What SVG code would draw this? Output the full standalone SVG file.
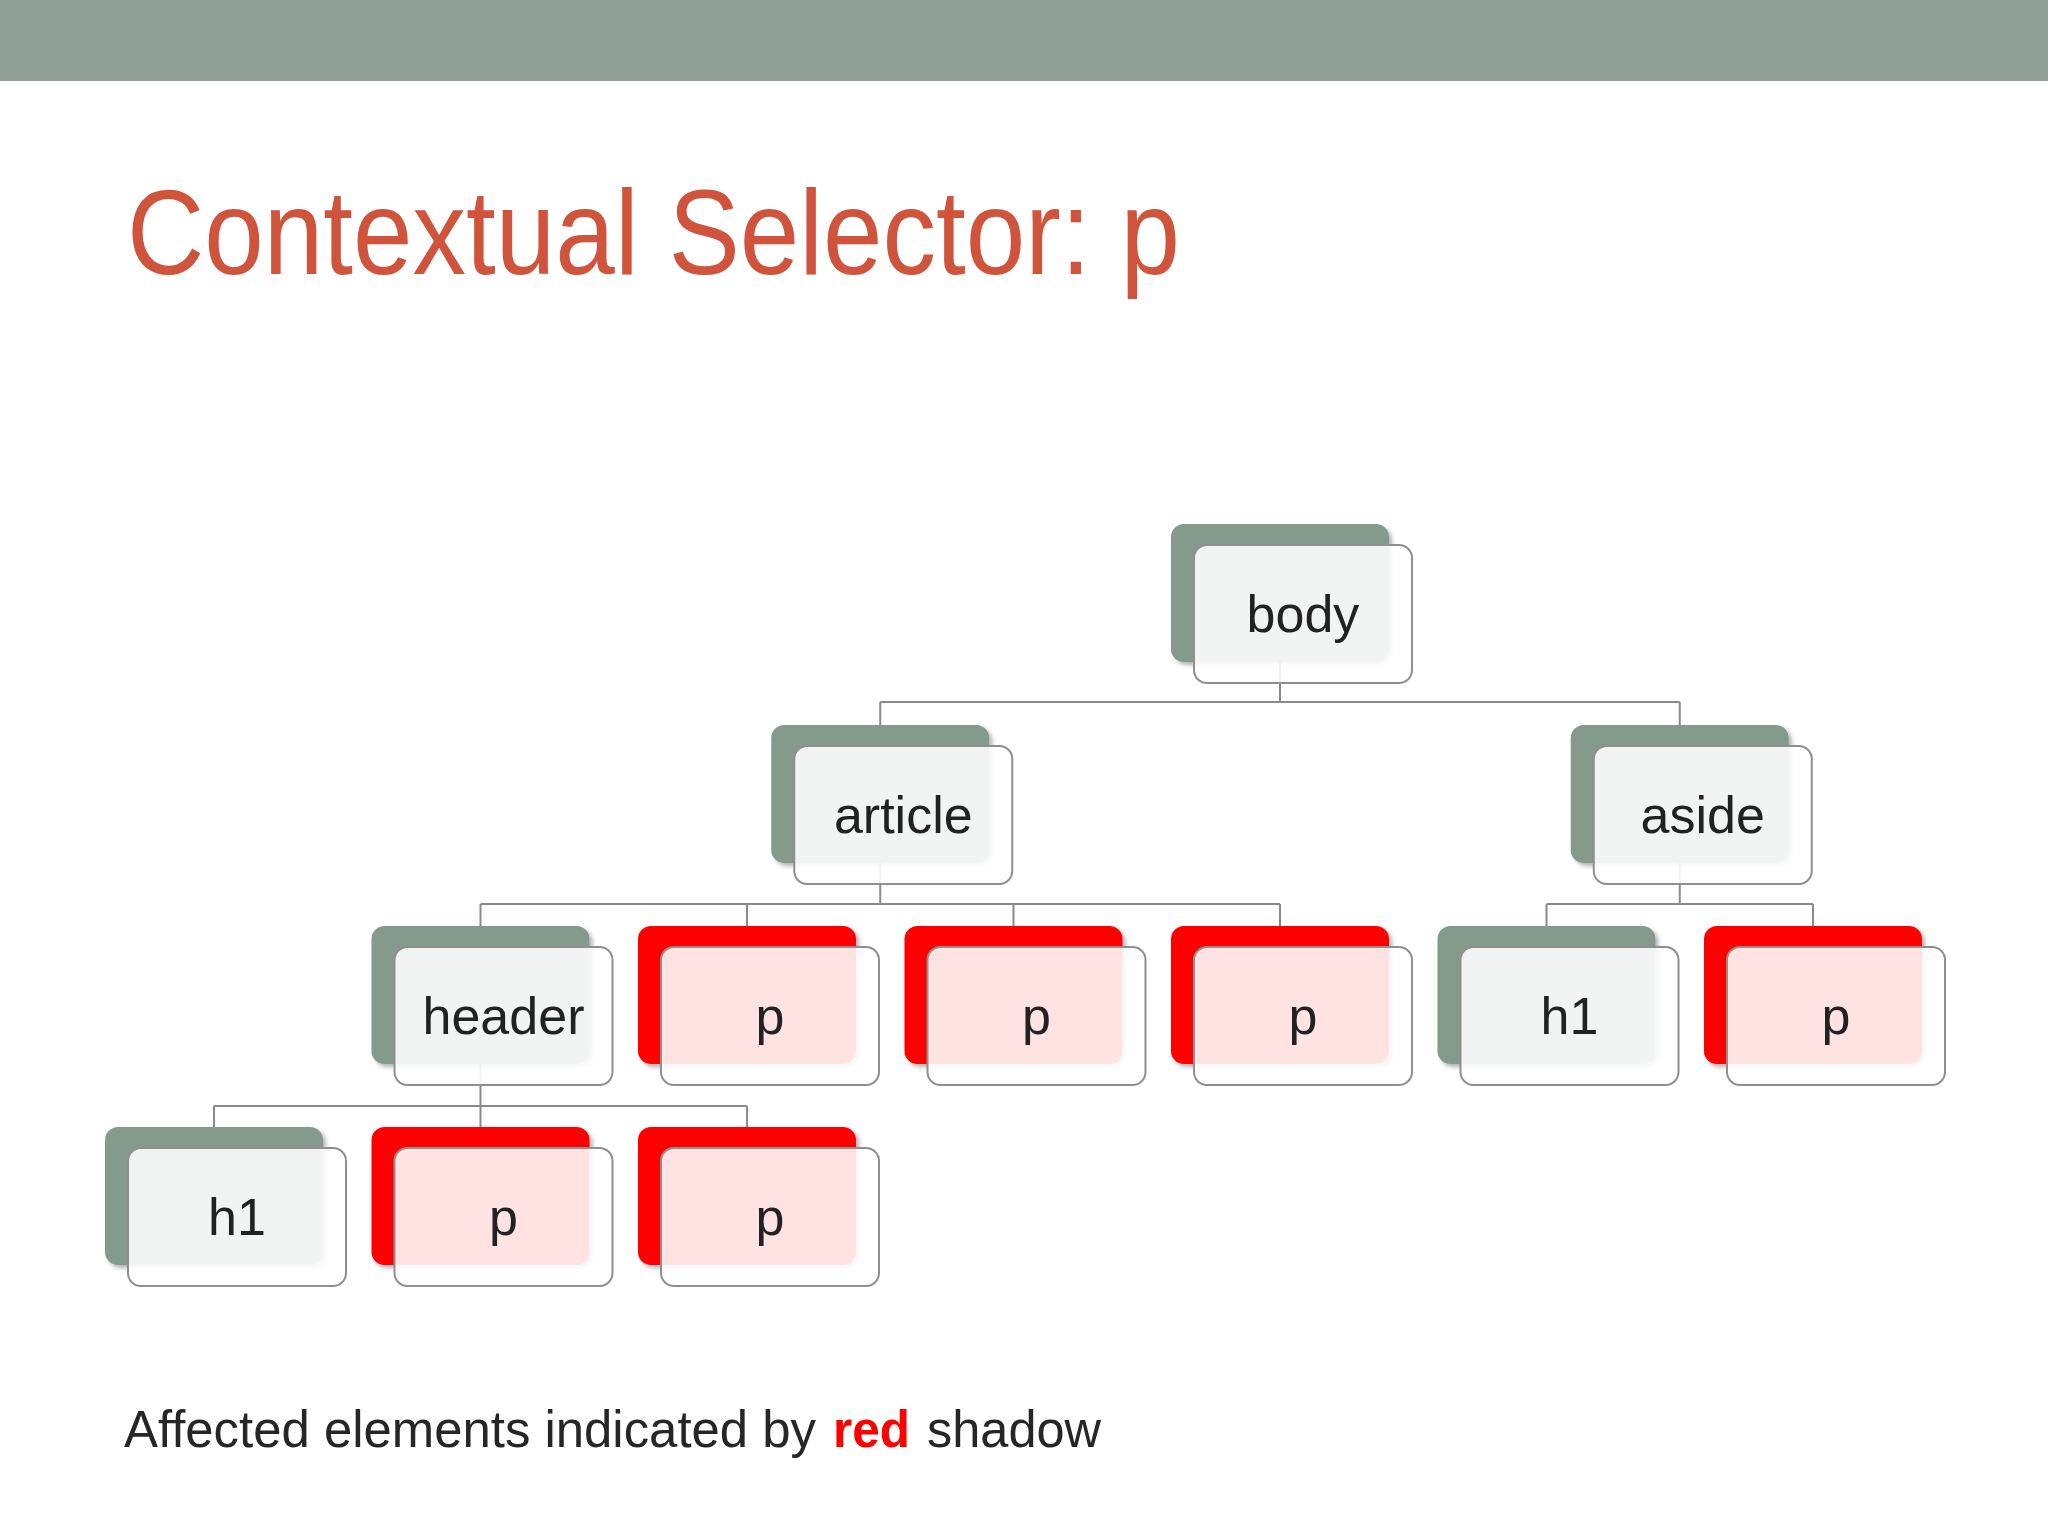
<svg xmlns="http://www.w3.org/2000/svg" width="2048" height="1536" viewBox="0 0 2048 1536">
<defs>
<style>
.sg{fill:#849a8d;filter:url(#ds)}
.sr{fill:#ff0000;filter:url(#ds)}
.fr{fill:#ffffff;fill-opacity:.89;stroke:#8f8f8f;stroke-width:2}
.lbl{font-family:"Liberation Sans",Arial,sans-serif;font-size:52px;fill:#222222;text-anchor:middle}
.cn{fill:none;stroke:#8a8a8a;stroke-width:2}
.foot{font-family:"Liberation Sans",Arial,sans-serif;font-size:52px;fill:#262626}
</style>
<filter id="ds" x="-10%" y="-10%" width="125%" height="125%">
<feDropShadow dx="3" dy="3" stdDeviation="2" flood-color="#000" flood-opacity="0.3"/>
</filter>
</defs>
<rect width="2048" height="1536" fill="#ffffff"/>
<rect width="2048" height="81" fill="#91a098"/>
<text x="127" y="274" font-family="'Liberation Sans',Arial,sans-serif" font-size="120" fill="#cf543b" textLength="1053" lengthAdjust="spacingAndGlyphs">Contextual Selector: p</text>

<g id="connectors" class="cn">
<path d="M1280 662V702M880.25 702H1679.75M880.25 702V725M1679.75 702V725"/>
<path d="M880.25 863V904M480.5 904H1280M480.5 904V926M747 904V926M1013.5 904V926M1280 904V926"/>
<path d="M1679.75 863V904M1546.5 904H1813M1546.5 904V926M1813 904V926"/>
<path d="M480.5 1064V1106M214 1106H747M214 1106V1127M480.5 1106V1127M747 1106V1127"/>
</g>

<g id="n-body" transform="translate(1194,545)"><rect class="sg" x="-23" y="-21" width="218" height="138" rx="13"/><rect class="fr" width="218" height="138" rx="13"/><text class="lbl" x="109" y="87">body</text></g>
<g id="n-article" transform="translate(794.25,746)"><rect class="sg" x="-23" y="-21" width="218" height="138" rx="13"/><rect class="fr" width="218" height="138" rx="13"/><text class="lbl" x="109" y="87">article</text></g>
<g id="n-aside" transform="translate(1593.75,746)"><rect class="sg" x="-23" y="-21" width="218" height="138" rx="13"/><rect class="fr" width="218" height="138" rx="13"/><text class="lbl" x="109" y="87">aside</text></g>
<g id="n-header" transform="translate(394.5,947)"><rect class="sg" x="-23" y="-21" width="218" height="138" rx="13"/><rect class="fr" width="218" height="138" rx="13"/><text class="lbl" x="109" y="87">header</text></g>
<g id="n-p1" transform="translate(661,947)"><rect class="sr" x="-23" y="-21" width="218" height="138" rx="13"/><rect class="fr" width="218" height="138" rx="13"/><text class="lbl" x="109" y="87">p</text></g>
<g id="n-p2" transform="translate(927.5,947)"><rect class="sr" x="-23" y="-21" width="218" height="138" rx="13"/><rect class="fr" width="218" height="138" rx="13"/><text class="lbl" x="109" y="87">p</text></g>
<g id="n-p3" transform="translate(1194,947)"><rect class="sr" x="-23" y="-21" width="218" height="138" rx="13"/><rect class="fr" width="218" height="138" rx="13"/><text class="lbl" x="109" y="87">p</text></g>
<g id="n-aside-h1" transform="translate(1460.5,947)"><rect class="sg" x="-23" y="-21" width="218" height="138" rx="13"/><rect class="fr" width="218" height="138" rx="13"/><text class="lbl" x="109" y="87">h1</text></g>
<g id="n-aside-p" transform="translate(1727,947)"><rect class="sr" x="-23" y="-21" width="218" height="138" rx="13"/><rect class="fr" width="218" height="138" rx="13"/><text class="lbl" x="109" y="87">p</text></g>
<g id="n-header-h1" transform="translate(128,1148)"><rect class="sg" x="-23" y="-21" width="218" height="138" rx="13"/><rect class="fr" width="218" height="138" rx="13"/><text class="lbl" x="109" y="87">h1</text></g>
<g id="n-header-p1" transform="translate(394.5,1148)"><rect class="sr" x="-23" y="-21" width="218" height="138" rx="13"/><rect class="fr" width="218" height="138" rx="13"/><text class="lbl" x="109" y="87">p</text></g>
<g id="n-header-p2" transform="translate(661,1148)"><rect class="sr" x="-23" y="-21" width="218" height="138" rx="13"/><rect class="fr" width="218" height="138" rx="13"/><text class="lbl" x="109" y="87">p</text></g>

<g id="footnote">
<text class="foot" x="124" y="1447" textLength="692" lengthAdjust="spacingAndGlyphs">Affected elements indicated by</text>
<text class="foot" x="833" y="1447" font-weight="bold" style="fill:#ff0000" textLength="77" lengthAdjust="spacingAndGlyphs">red</text>
<text class="foot" x="927" y="1447" textLength="174" lengthAdjust="spacingAndGlyphs">shadow</text>
</g>
</svg>
